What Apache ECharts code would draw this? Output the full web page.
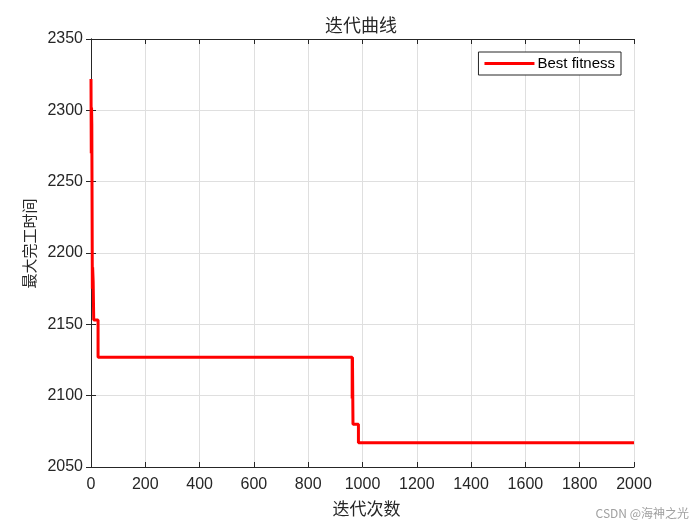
<!DOCTYPE html>
<html><head><meta charset="utf-8">
<script src="https://cdn.jsdelivr.net/npm/echarts@6/dist/echarts.min.js"></script>
<style>html,body{margin:0;padding:0;background:#fff}#c{width:700px;height:525px}</style>
</head><body><div id="c"></div>
<script>
const iterations = [0, 1, 2, 3, 5, 6, 8, 10, 26, 962, 963, 965, 985, 2000];
const bestFitness = [2322, 2270, 2302, 2290, 2175, 2190, 2180, 2153, 2127, 2098, 2127, 2080, 2067, 2067];
const xTicks = [0, 200, 400, 600, 800, 1000, 1200, 1400, 1600, 1800, 2000];
const yTicks = [2050, 2100, 2150, 2200, 2250, 2300, 2350];
const titleText = '迭代曲线';
const xLabel = '迭代次数';
const yLabel = '最大完工时间';
const seriesName = 'Best fitness';

const data = iterations.map((x, i) => [x, bestFitness[i]]);
const chart = echarts.init(document.getElementById('c'));
const tickFont = {fontFamily: 'Liberation Sans, Arial, sans-serif', fontSize: 16, color: '#262626'};
const axisLineStyle = {color: '#262626', width: 1};
chart.setOption({
  animation: false,
  title: [
    {text: titleText, left: 325, top: 16, padding: 0, textStyle: {fontFamily: 'Noto Sans CJK SC', fontSize: 18, fontWeight: 'normal', color: '#262626'}},
    {text: 'CSDN @海神之光', right: 11, bottom: 6, padding: 0, textStyle: {fontFamily: 'Noto Sans CJK SC', fontSize: 12, fontWeight: 'normal', color: '#a0a0a0'}}
  ],
  legend: {
    right: 79, top: 52, padding: [4, 6, 4, 6],
    borderColor: '#262626', borderWidth: 1, backgroundColor: '#fff',
    itemWidth: 50, itemHeight: 3, itemGap: 3,
    icon: 'rect',
    textStyle: {fontFamily: 'Liberation Sans, Arial, sans-serif', fontSize: 15, color: '#000', padding: [0, 0, 0, -2]},
    data: [{name: seriesName, icon: 'rect'}]
  },
  grid: {left: 91, right: 66, top: 39, bottom: 58, containLabel: false},
  graphic: [{
    type: 'text', x: 29.5, y: 243.5, rotation: Math.PI / 2,
    style: {text: yLabel, fontFamily: 'Noto Sans CJK SC', fontSize: 15, fill: '#262626', align: 'center', verticalAlign: 'middle'}
  }],
  xAxis: [
    {type: 'value', min: 0, max: 2000, interval: 200, position: 'bottom',
     name: xLabel, nameLocation: 'middle', nameGap: 33,
     nameTextStyle: {fontFamily: 'Noto Sans CJK SC', fontSize: 17, color: '#262626', padding: [0, 0, 0, 8]},
     axisLine: {show: true, lineStyle: axisLineStyle},
     axisTick: {show: true, inside: true, length: 5, lineStyle: axisLineStyle},
     axisLabel: Object.assign({margin: 10, formatter: v => xTicks.includes(v) ? String(v) : ''}, tickFont),
     splitLine: {show: true, lineStyle: {color: '#dfdfdf', width: 1}}},
    {type: 'value', min: 0, max: 2000, interval: 200, position: 'top',
     axisLine: {show: true, lineStyle: axisLineStyle},
     axisTick: {show: true, inside: true, length: 5, lineStyle: axisLineStyle},
     axisLabel: {show: false}, splitLine: {show: false}}
  ],
  yAxis: [
    {type: 'value', min: 2050, max: 2350, interval: 50, position: 'left',
     axisLine: {show: true, lineStyle: axisLineStyle},
     axisTick: {show: true, inside: true, length: 5, lineStyle: axisLineStyle},
     axisLabel: Object.assign({margin: 8, formatter: v => yTicks.includes(v) ? String(v) : ''}, tickFont),
     splitLine: {show: true, lineStyle: {color: '#dfdfdf', width: 1}}},
    {type: 'value', min: 2050, max: 2350, interval: 50, position: 'right',
     axisLine: {show: true, lineStyle: axisLineStyle},
     axisTick: {show: true, inside: true, length: 5, lineStyle: axisLineStyle},
     axisLabel: {show: false}, splitLine: {show: false}}
  ],
  series: [{
    name: seriesName, type: 'line', step: 'end', data: data,
    xAxisIndex: 0, yAxisIndex: 0,
    showSymbol: false, symbol: 'none',
    lineStyle: {color: '#ff0000', width: 3}, itemStyle: {color: '#ff0000'}
  }]
});
</script></body></html>
